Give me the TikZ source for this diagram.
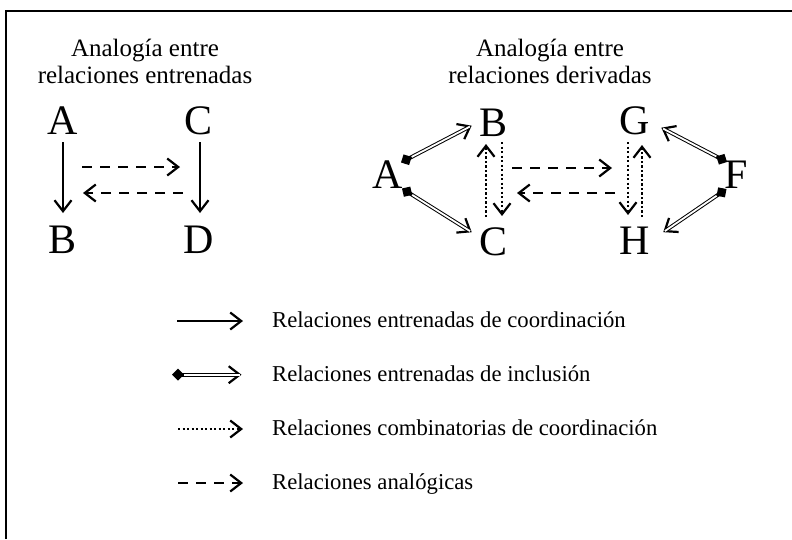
\documentclass[tikz,border=0pt]{standalone}
\usepackage{fontspec}
\setmainfont{Liberation Serif}
\usetikzlibrary{arrows.meta,calc}

\begin{document}
\begin{tikzpicture}[x=1pt,y=-1pt,
  lett/.style={font=\fontsize{42}{42}\selectfont, inner sep=0pt},
  ttl/.style={font=\fontsize{25}{30}\selectfont, anchor=base, inner sep=0pt},
  leg/.style={font=\fontsize{22.7}{27}\selectfont, anchor=base west, inner sep=0pt},
  vtip/.style={-{Straight Barb[length=11pt,width=17pt,line width=2.2pt]}},
  coordarr/.style={line width=2.2pt, vtip},
  analog/.style={line width=2.2pt, dash pattern=on 10pt off 8pt, vtip},
  comb/.style={line width=2.2pt, dash pattern=on 2.2pt off 2.3pt, vtip},
  incl/.style={draw=black, line width=3.8pt, shorten >=1.5pt,
    {Diamond[length=12pt,width=12pt,line width=0pt]}-{Straight Barb[length=11pt,width=17pt,line width=2.2pt]},
    postaction={draw=white, line width=1.8pt, arrows=-, shorten <=12pt, shorten >=3.5pt}},
  frame/.style={line width=2.2pt}
]
\useasboundingbox (0,0) rectangle (792,539);
\fill[white] (0,0) rectangle (792,539);
% frame (top and left edges)
\draw[frame] (6,539) -- (6,11) -- (792,11);

% titles
\node[ttl] (t1a) at (145,56) {Analogía entre};
\node[ttl] (t1b) at (145,83) {relaciones entrenadas};
\node[ttl] (t2a) at (550,56) {Analogía entre};
\node[ttl] (t2b) at (550,83) {relaciones derivadas};

% left diagram
\node[lett] (A1) at (63,121) {A};
\node[lett] (C1) at (199,121) {C};
\node[lett] (B1) at (63,240) {B};
\node[lett] (D1) at (199,240) {D};
\draw[coordarr] ($(A1)+(0,21)$) -- ($(B1)+(0,-27)$);
\draw[coordarr] ($(C1)+(1,21)$) -- ($(D1)+(1,-27)$);
\draw[analog] ($(A1)+(19,46)$) -- ($(C1)+(-19,46)$);
\draw[analog] ($(D1)+(-16,-47)$) -- ($(B1)+(20,-47)$);

% right diagram
\node[lett] (A2) at (388,175) {A};
\node[lett] (B2) at (493,123) {B};
\node[lett] (C2) at (493,242) {C};
\node[lett] (G) at (635,121) {G};
\node[lett] (H) at (635,241) {H};
\node[lett] (F) at (736,175) {F};

\draw[incl] ($(A2)+(13,-12.5)$) -- ($(B2)+(-20,2)$);
\draw[incl] ($(A2)+(14,13.5)$) -- ($(C2)+(-20,-9)$);
\draw[incl] ($(F)+(-9,-13)$) -- ($(G)+(25,6)$);
\draw[incl] ($(F)+(-9.5,14)$) -- ($(H)+(27,-8)$);

\draw[comb] ($(C2)+(-7,-25)$) -- ($(B2)+(-7,21)$);
\draw[comb] ($(B2)+(9,19)$) -- ($(C2)+(9,-26)$);
\draw[comb] ($(G)+(-7,21)$) -- ($(H)+(-7,-26)$);
\draw[comb] ($(H)+(7,-24)$) -- ($(G)+(7,24)$);

\draw[analog] ($(B2)+(19,45)$) -- ($(G)+(-23,47)$);
\draw[analog] ($(H)+(-20,-48)$) -- ($(C2)+(24,-49)$);

% legend
\node[leg] (L1) at (272,327) {Relaciones entrenadas de coordinación};
\node[leg] (L2) at (272,381) {Relaciones entrenadas de inclusión};
\node[leg] (L3) at (272,435) {Relaciones combinatorias de coordinación};
\node[leg] (L4) at (272,489) {Relaciones analógicas};
\draw[coordarr] ($(L1.base west)+(-95,-6)$) -- ($(L1.base west)+(-29,-6)$);
\draw[incl] ($(L2.base west)+(-100,-6.3)$) -- ($(L2.base west)+(-29,-6.3)$);
\draw[comb] ($(L3.base west)+(-94,-6)$) -- ($(L3.base west)+(-29,-6)$);
\draw[analog] ($(L4.base west)+(-94,-6)$) -- ($(L4.base west)+(-29,-6)$);
\end{tikzpicture}
\end{document}
